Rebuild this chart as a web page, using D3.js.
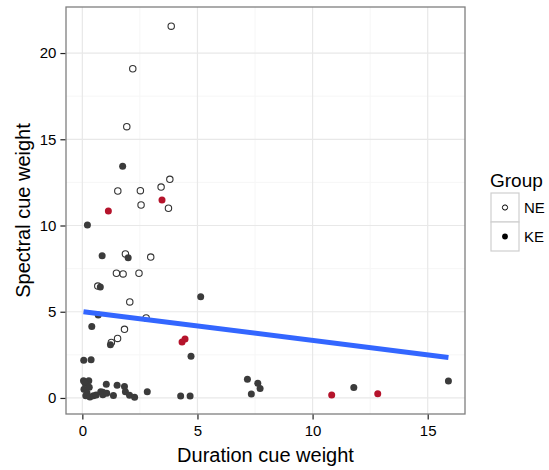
<!DOCTYPE html>
<meta charset="utf-8">
<style>
body { margin: 0; background: #fff; }
text { font-family: "Liberation Sans", Arial, sans-serif; fill: #000; }
</style>
<body>
<script src="https://cdn.jsdelivr.net/npm/d3@7"></script>
<script>

var width = 549,
    height = 470;

// NE group (open circles)
var neX = [3.86, 2.19, 1.93, 1.54, 2.52, 3.42, 3.80, 2.55, 3.74, 1.87, 2.97, 1.48, 1.77, 2.46, 0.67, 2.06, 2.77, 1.83, 1.53, 1.26];
var neY = [21.56, 19.09, 15.73, 12.00, 12.02, 12.23, 12.68, 11.19, 11.00, 8.35, 8.17, 7.23, 7.19, 7.23, 6.49, 5.57, 4.64, 3.98, 3.45, 3.22];

// KE group (filled), dark points
var keX = [1.75, 0.22, 0.86, 1.99, 0.78, 5.14, 0.69, 0.41, 1.22, 4.72, 0.06, 0.38,
           0.05, 0.28, 0.12, 0.07, 0.30, 0.20, 0.15, 0.33, 0.48, 0.60, 0.80, 0.89, 0.89, 1.04,
           1.06, 1.35, 1.51, 1.83, 1.87, 2.05, 2.27, 2.82, 4.27, 4.68, 7.17, 7.34, 7.62, 7.72,
           11.79, 15.90];
var keY = [13.43, 10.03, 8.25, 8.13, 6.43, 5.87, 4.81, 4.15, 3.09, 2.42, 2.18, 2.22,
           1.00, 1.00, 0.85, 0.50, 0.62, 0.30, 0.13, 0.05, 0.13, 0.17, 0.36, 0.33, 0.19, 0.79,
           0.27, 0.14, 0.74, 0.66, 0.36, 0.15, 0.04, 0.36, 0.12, 0.12, 1.08, 0.23, 0.85, 0.55,
           0.60, 0.99];

// KE group, red points
var redX = [1.13, 3.46, 4.33, 4.46, 10.83, 12.83];
var redY = [10.84, 11.48, 3.25, 3.42, 0.17, 0.25];

// linear fit line (ends)
var fitX = [0.05, 15.9];
var fitY = [5.0, 2.35];

var xTicks = [0, 5, 10, 15];
var yTicks = [0, 5, 10, 15, 20];
var xMinor = [2.5, 7.5, 12.5];
var yMinor = [2.5, 7.5, 12.5, 17.5];
var groups = ["NE", "KE"];

var pLeft = 66, pRight = 465, pTop = 7, pBottom = 414;

var x = d3.scaleLinear().domain([-0.71, 16.62]).range([pLeft, pRight]);
var y = d3.scaleLinear().domain([-0.93, 22.67]).range([pBottom, pTop]);

var svg = d3.select("body").append("svg")
    .attr("width", width)
    .attr("height", height);

// grid
var grid = svg.append("g");
grid.selectAll(".xmin").data(xMinor).enter().append("line")
    .attr("x1", x).attr("x2", x).attr("y1", pTop).attr("y2", pBottom)
    .attr("stroke", "#f6f6f6").attr("stroke-width", 1);
grid.selectAll(".ymin").data(yMinor).enter().append("line")
    .attr("y1", y).attr("y2", y).attr("x1", pLeft).attr("x2", pRight)
    .attr("stroke", "#f6f6f6").attr("stroke-width", 1);
grid.selectAll(".xmaj").data(xTicks).enter().append("line")
    .attr("x1", x).attr("x2", x).attr("y1", pTop).attr("y2", pBottom)
    .attr("stroke", "#e8e8e8").attr("stroke-width", 1.2);
grid.selectAll(".ymaj").data(yTicks).enter().append("line")
    .attr("y1", y).attr("y2", y).attr("x1", pLeft).attr("x2", pRight)
    .attr("stroke", "#e8e8e8").attr("stroke-width", 1.2);

// points
var ne = neX.map(function(d, i) { return [d, neY[i]]; });
var ke = keX.map(function(d, i) { return [d, keY[i]]; });
var red = redX.map(function(d, i) { return [d, redY[i]]; });

svg.append("g").selectAll("circle").data(ne).enter().append("circle")
    .attr("cx", function(d) { return x(d[0]); })
    .attr("cy", function(d) { return y(d[1]); })
    .attr("r", 3.2)
    .attr("fill", "none")
    .attr("stroke", "#333")
    .attr("stroke-width", 1.1);

svg.append("g").selectAll("circle").data(ke).enter().append("circle")
    .attr("cx", function(d) { return x(d[0]); })
    .attr("cy", function(d) { return y(d[1]); })
    .attr("r", 3.5)
    .attr("fill", "#3b3b3b");

svg.append("g").selectAll("circle").data(red).enter().append("circle")
    .attr("cx", function(d) { return x(d[0]); })
    .attr("cy", function(d) { return y(d[1]); })
    .attr("r", 3.5)
    .attr("fill", "#b5132b");

// fit line
svg.append("line")
    .attr("x1", x(fitX[0])).attr("y1", y(fitY[0]))
    .attr("x2", x(fitX[1])).attr("y2", y(fitY[1]))
    .attr("stroke", "#3366ff")
    .attr("stroke-width", 5);

// panel border
svg.append("rect")
    .attr("x", pLeft).attr("y", pTop)
    .attr("width", pRight - pLeft).attr("height", pBottom - pTop)
    .attr("fill", "none").attr("stroke", "#7f7f7f").attr("stroke-width", 1.3);

// axes
var xAxis = svg.append("g")
    .attr("transform", "translate(0," + (pBottom + 0.6) + ")")
    .call(d3.axisBottom(x).tickValues(xTicks).tickSize(5).tickPadding(6).tickFormat(d3.format("d")));
var yAxis = svg.append("g")
    .attr("transform", "translate(" + (pLeft - 0.6) + ",0)")
    .call(d3.axisLeft(y).tickValues(yTicks).tickSize(5).tickPadding(4).tickFormat(d3.format("d")));
[xAxis, yAxis].forEach(function(a) {
  a.attr("font-family", null).attr("font-size", null);
  a.select(".domain").remove();
  a.selectAll(".tick line").attr("stroke", "#222").attr("stroke-width", 1.2);
  a.selectAll(".tick text").style("font-size", "15px").attr("fill", "#1a1a1a");
});

// axis titles
svg.append("text")
    .attr("x", (pLeft + pRight) / 2).attr("y", 462)
    .attr("text-anchor", "middle")
    .style("font-size", "20px")
    .text("Duration cue weight");
svg.append("text")
    .attr("transform", "translate(30," + ((pTop + pBottom) / 2) + ") rotate(-90)")
    .attr("text-anchor", "middle")
    .style("font-size", "20px")
    .text("Spectral cue weight");

// legend
var lg = svg.append("g").attr("transform", "translate(491,193)");
lg.append("text").attr("x", -1).attr("y", -6).style("font-size", "19px").text("Group");
var key = lg.selectAll(".key").data(groups).enter().append("g")
    .attr("transform", function(d, i) { return "translate(0," + (i * 29) + ")"; });
key.append("rect")
    .attr("width", 28).attr("height", 29)
    .attr("fill", "#fff").attr("stroke", "#cfcfcf").attr("stroke-width", 1.2);
key.append("circle")
    .attr("cx", 14).attr("cy", 14.5)
    .attr("r", function(d) { return d === "NE" ? 2.6 : 2.9; })
    .attr("fill", function(d) { return d === "NE" ? "none" : "#000"; })
    .attr("stroke", function(d) { return d === "NE" ? "#000" : "none"; })
    .attr("stroke-width", 1);
key.append("text")
    .attr("x", 33).attr("y", 20)
    .style("font-size", "15px")
    .text(function(d) { return d; });

</script>
